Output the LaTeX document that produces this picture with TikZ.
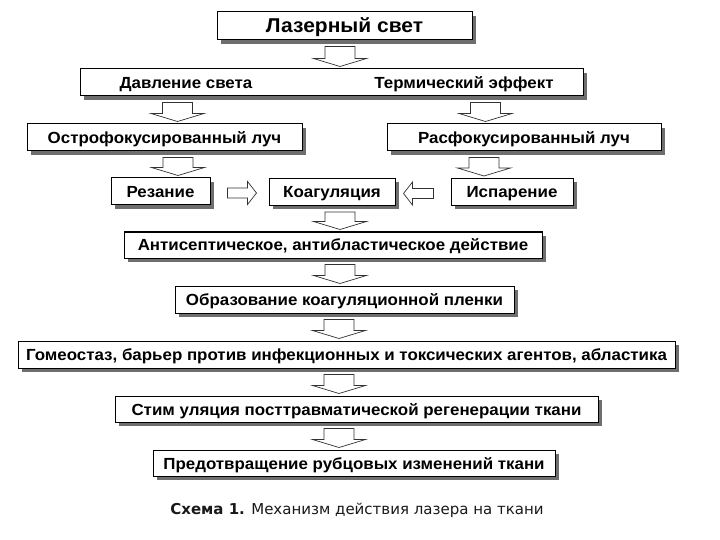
\documentclass[tikz,border=0pt]{standalone}
\usepackage{fontspec}
\setmainfont{Liberation Sans}[FakeStretch=1.05]
\newfontfamily\capfont{DejaVu Sans}
\usepackage{tikz}
\usetikzlibrary{calc,shadows}
\definecolor{cShadow}{RGB}{110,110,110}
\definecolor{cArr}{RGB}{50,50,50}
\definecolor{cCap}{RGB}{25,25,25}

\begin{document}
\begin{tikzpicture}[x=1pt, y=-1pt,
  box/.style={draw, line width=1pt, fill=white, inner sep=0pt, minimum height=27pt,
    text height=12pt, text depth=0pt, font=\bfseries\fontsize{16.1}{19}\selectfont,
    drop shadow={shadow xshift=4pt, shadow yshift=-4pt, fill=cShadow, opacity=1}},
  lbl/.style={inner sep=0pt, text height=12pt, text depth=0pt,
    font=\bfseries\fontsize{16.1}{19}\selectfont},
  captxt/.style={inner sep=0pt, text=cCap, font=\capfont\fontsize{15}{18}\selectfont},
  darr/.style={draw=cArr, line width=0.7pt, fill=white, to path={
    let \p1=(\tikztostart), \p2=(\tikztotarget) in
    (\x1-15pt,\y1-6pt) -- (\x1-15pt,\y2+10pt) -- (\x1-26.5pt,\y2+10pt) -- (\x1,\y2+2pt)
    -- (\x1+26.5pt,\y2+10pt) -- (\x1+15pt,\y2+10pt) -- (\x1+15pt,\y1-6pt) -- cycle}},
  harr/.style={draw=cArr, line width=0.7pt, fill=white, to path={
    let \p1=(\tikztostart), \p2=(\tikztotarget), \p3=($(\x2,\y1)!#1!(\p1)$),
    \p4=($(\p3)!9pt!(\p1)$) in
    (\x1,\y1+5pt) -- (\x4,\y1+5pt) -- (\x4,\y1+11.5pt) -- (\x3,\y1) -- (\x4,\y1-11.5pt)
    -- (\x4,\y1-5pt) -- (\x1,\y1-5pt) -- cycle}}]
\useasboundingbox (0,0) rectangle (720,540);
\node[box, minimum width=255pt, minimum height=28pt, text height=14pt,
  font=\bfseries\fontsize{20}{23}\selectfont] (laser) at (344.5,26) {Лазерный свет};
\node[box, minimum width=503pt] (effects) at (331.5,82.5) {};
\node[lbl] (press) at (186,82.5) {Давление света};
\node[lbl] (therm) at (464,82.5) {Термический эффект};
\node[box, minimum width=275pt] (sharp) at (164.5,137.5) {Острофокусированный луч};
\node[box, minimum width=274pt] (defoc) at (524,137.5) {Расфокусированный луч};
\node[box, minimum width=99pt] (cut) at (160.5,191.5) {Резание};
\node[box, minimum width=126pt] (coag) at (332,192) {Коагуляция};
\node[box, minimum width=122pt] (evap) at (512,192) {Испарение};
\node[box, minimum width=418pt, minimum height=26pt] (antisep) at (333,245)
  {Антисептическое, антибластическое действие};
\node[box, minimum width=339pt] (film) at (344.5,299.5) {Образование коагуляционной пленки};
\node[box, minimum width=657pt] (barrier) at (346.5,354.5)
  {Гомеостаз, барьер против инфекционных и токсических агентов, абластика};
\node[box, minimum width=483pt, minimum height=26pt] (stim) at (356.5,409)
  {Стим уляция посттравматической регенерации ткани};
\node[box, minimum width=402pt, minimum height=26pt] (prevent) at (354,463)
  {Предотвращение рубцовых изменений ткани};
\node[captxt] (caption) at (357,510) {\textbf{Схема 1.} Механизм действия лазера на ткани};
\draw[darr] ([xshift=-4.5pt]laser.south) to (effects.north);
\draw[darr] ([xshift=98pt]effects.south west) to (sharp.north);
\draw[darr] ([xshift=-98pt]effects.south east) to (defoc.north);
\draw[darr] ([xshift=13.5pt]sharp.south) to (cut.north);
\draw[darr] ([xshift=-40pt]defoc.south) to (evap.north);
\draw[harr=12pt] ([xshift=17pt,yshift=-1.5pt]cut.east) to (coag.west);
\draw[harr=8pt] ([xshift=-17pt,yshift=-1.5pt]evap.west) to (coag.east);
\draw[darr] ([xshift=8pt]coag.south) to (antisep.north);
\draw[darr] ([xshift=7pt]antisep.south) to (film.north);
\draw[darr] ([xshift=-5.5pt]film.south) to (barrier.north);
\draw[darr] ([xshift=-7.5pt]barrier.south) to (stim.north);
\draw[darr] ([xshift=-17.5pt]stim.south) to (prevent.north);
\end{tikzpicture}
\end{document}
